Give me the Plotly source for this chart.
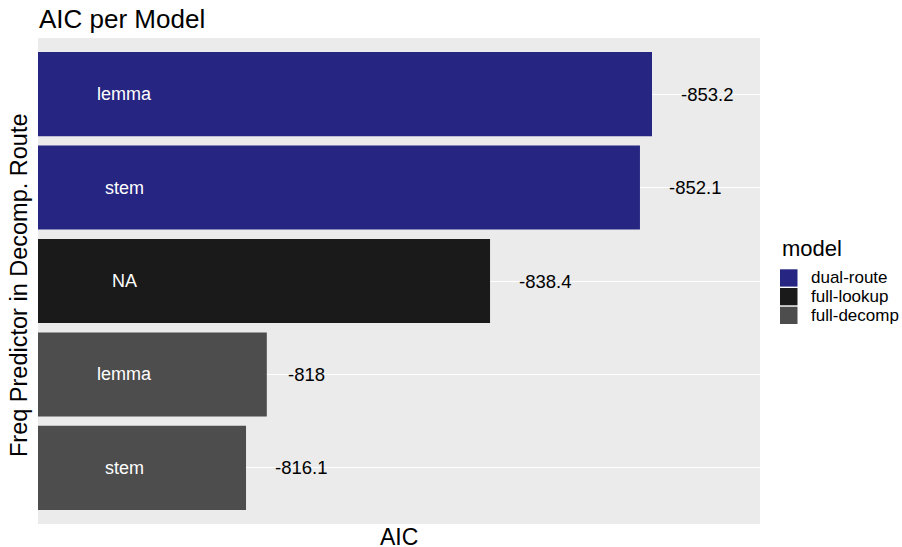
import plotly.graph_objects as go

# ---- data ----
models = ["dual-route", "dual-route", "full-lookup", "full-decomp", "full-decomp"]
freq_predictor = ["lemma", "stem", "NA", "lemma", "stem"]
aic = [-853.2, -852.1, -838.4, -818.0, -816.1]
aic_labels = ["-853.2", "-852.1", "-838.4", "-818", "-816.1"]
legend_models = ["dual-route", "full-lookup", "full-decomp"]
model_colors = {"dual-route": "#262682", "full-lookup": "#1a1a1a", "full-decomp": "#4d4d4d"}

FONT = "Liberation Sans"
W, H = 902, 547
# panel box in page pixels
PL, PR, PT, PB = 38, 760, 38, 524
pw, ph = PR - PL, PB - PT

def px_x(p):
    return (p - PL) / pw

def px_y(p):
    return (PB - p) / ph

rows = [f"{m}|{f}|{i}" for i, (m, f) in enumerate(zip(models, freq_predictor))]
xvals = [-v for v in aic]
x_range = [797.09, 863.07]
px_per_unit = pw / (x_range[1] - x_range[0])

fig = go.Figure()
fig.add_trace(go.Bar(
    x=xvals, y=rows, orientation="h", width=0.9,
    marker=dict(color=[model_colors[m] for m in models], line=dict(width=0)),
    showlegend=False, hoverinfo="skip",
))

cw = {"-": 0.333, ".": 0.278}
def text_w(s, size):
    return sum(cw.get(c, 0.556) for c in s) * size

VAL_SIZE = 18.5
annotations = []
for r, xv, lab in zip(rows, xvals, aic_labels):
    annotations.append(dict(
        x=xv, y=r, xref="x", yref="y", text=lab, showarrow=False,
        xanchor="left", yanchor="middle", xshift=0.5 * text_w(lab, VAL_SIZE) + 0.5,
        font=dict(family=FONT, size=VAL_SIZE, color="black"),
    ))
inner_x = x_range[0] + (124.5 - PL) / px_per_unit
for r, f in zip(rows, freq_predictor):
    annotations.append(dict(
        x=inner_x, y=r, xref="x", yref="y", text=f, showarrow=False,
        xanchor="center", yanchor="middle",
        font=dict(family=FONT, size=18, color="white"),
    ))

annotations.append(dict(
    x=px_x(37), y=px_y(19), xref="paper", yref="paper", text="AIC per Model",
    showarrow=False, xanchor="left", yanchor="middle",
    font=dict(family=FONT, size=26, color="black"),
))
annotations.append(dict(
    x=px_x(19), y=px_y(285), xref="paper", yref="paper",
    text="Freq Predictor in Decomp. Route", textangle=-90,
    showarrow=False, xanchor="center", yanchor="middle",
    font=dict(family=FONT, size=23.5, color="black"),
))
annotations.append(dict(
    x=px_x((PL + PR) / 2), y=px_y(537), xref="paper", yref="paper", text="AIC",
    showarrow=False, xanchor="center", yanchor="middle",
    font=dict(family=FONT, size=23, color="black"),
))

annotations.append(dict(
    x=px_x(780), y=px_y(248), xref="paper", yref="paper", text="model",
    showarrow=False, xanchor="left", yanchor="middle",
    font=dict(family=FONT, size=22, color="black"),
))
shapes = []
key_top, key_h, key_step = 269.3, 17.3, 18.7
for i, m in enumerate(legend_models):
    t = key_top + i * key_step
    shapes.append(dict(
        type="rect", xref="paper", yref="paper",
        x0=px_x(780), x1=px_x(797.5), y0=px_y(t + key_h), y1=px_y(t),
        fillcolor=model_colors[m], line=dict(width=0),
    ))
    annotations.append(dict(
        x=px_x(809), y=px_y(t + key_h / 2), xref="paper", yref="paper", text=m,
        showarrow=False, xanchor="left", yanchor="middle",
        font=dict(family=FONT, size=17, color="black"),
    ))

fig.update_layout(
    width=W, height=H,
    margin=dict(l=PL, r=W - PR, t=PT, b=H - PB, pad=0),
    paper_bgcolor="white", plot_bgcolor="#ebebeb",
    xaxis=dict(range=x_range, showgrid=False, zeroline=False, showticklabels=False,
               ticks="", showline=False, fixedrange=True),
    yaxis=dict(categoryorder="array", categoryarray=rows, autorange=False,
               range=[len(rows) - 0.4, -0.6], showgrid=True, gridcolor="white",
               gridwidth=1, zeroline=False, showticklabels=False, ticks="", showline=False,
               fixedrange=True),
    annotations=annotations, shapes=shapes,
    bargap=0.1, showlegend=False,
    font=dict(family=FONT),
)

fig.write_html(
    "out.html",
    config={"displayModeBar": False},
    default_width=f"{W}px", default_height=f"{H}px",
    post_script="document.body.style.margin='0';document.body.style.overflow='hidden';",
)
